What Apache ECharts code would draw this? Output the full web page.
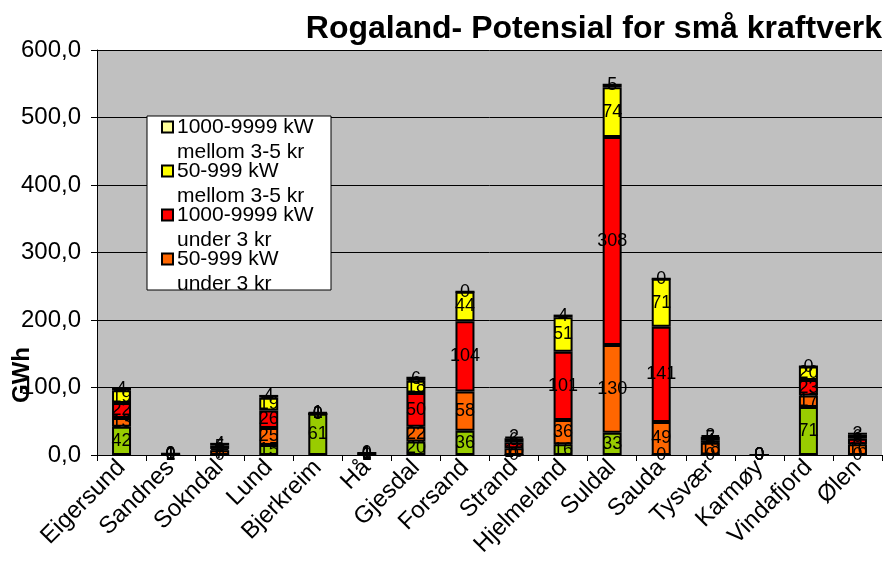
<!DOCTYPE html>
<html>
<head>
<meta charset="utf-8">
<script src="https://cdn.jsdelivr.net/npm/echarts@6/dist/echarts.min.js"></script>
<style>
html,body{margin:0;padding:0;background:#fff;}
#chart{width:886px;height:580px;}
</style>
</head>
<body>
<div id="chart"></div>
<script>
const categories = ['Eigersund','Sandnes','Sokndal','Lund','Bjerkreim','Hå','Gjesdal','Forsand','Strand','Hjelmeland','Suldal','Sauda','Tysvær','Karmøy','Vindafjord','Ølen'];
const yTicks = [0,100,200,300,400,500,600];
const seriesNames = ['Øvrige','50-999 kW\nunder 3 kr','1000-9999 kW\nunder 3 kr','50-999 kW\nmellom 3-5 kr','1000-9999 kW\nmellom 3-5 kr'];
const greenVals  = [42,0,0,15,61,0,20,36,0,16,33,0,0,0,71,0];
const orangeVals = [13,1,7,25,0,1,22,58,10,36,130,49,18,0,17,16];
const redVals    = [22,0,2,26,0,1,50,104,9,101,308,141,4,0,23,8];
const yellowVals = [19,1,5,19,1,1,18,44,6,51,74,71,5,0,20,6];
const lightVals  = [4,0,4,4,1,0,6,0,2,4,5,0,2,0,0,3];
const colors = ['#99CC00','#FF6600','#FF0000','#FFFF00','#FFFF99'];
const allVals = [greenVals, orangeVals, redVals, yellowVals, lightVals];
const legendOrder = [4, 3, 2, 1];

const FONT = '"Liberation Sans", Arial, sans-serif';
const chart = echarts.init(document.getElementById('chart'), null, {renderer:'canvas'});
const series = allVals.map((vals, i) => ({
  name: seriesNames[i],
  type: 'bar',
  stack: 'total',
  data: vals,
  barWidth: 19,
  itemStyle: {color: colors[i], borderColor: '#000', borderWidth: 2},
  label: {
    show: true, position: 'inside', color: '#000', fontSize: 18, fontFamily: FONT,
    formatter: p => String(Math.round(p.value))
  },
  emphasis: {disabled: true},
  animation: false
}));

const legendGraphics = [
  {type: 'rect', shape: {x: 147, y: 116, width: 184, height: 174}, z: 50,
    style: {fill: '#fff', stroke: '#000', lineWidth: 1}}
];
legendOrder.forEach((si, k) => {
  const cy = 127 + k * 44;
  const lines = seriesNames[si].split('\n');
  legendGraphics.push({type: 'rect', shape: {x: 162, y: cy - 5.5, width: 11, height: 11}, z: 51,
    style: {fill: colors[si], stroke: '#000', lineWidth: 2}});
  lines.forEach((ln, j) => {
    legendGraphics.push({type: 'text', x: 177, y: cy + j * 25, z: 51,
      style: {text: ln, fill: '#000', font: '21px ' + FONT, textAlign: 'left', textVerticalAlign: 'middle'}});
  });
});

chart.setOption({
  animation: false,
  backgroundColor: '#fff',
  title: {
    text: 'Rogaland- Potensial for små kraftverk',
    right: 4, top: 13, padding: 0,
    textStyle: {fontSize: 32, fontWeight: 'bold', color: '#000', fontFamily: FONT}
  },
  grid: {left: 97, right: 4, top: 50, bottom: 125, show: true, backgroundColor: '#C0C0C0', borderWidth: 0},
  xAxis: {
    type: 'category', data: categories,
    axisLine: {lineStyle: {color: '#000', width: 1}},
    axisTick: {show: true, alignWithLabel: false, interval: 0, length: 6, lineStyle: {color: '#000'}},
    axisLabel: {interval: 0, rotate: 45, fontSize: 24, color: '#000', fontFamily: FONT, margin: 9}
  },
  yAxis: {
    type: 'value', min: 0, max: 600, interval: 100,
    axisLine: {show: true, lineStyle: {color: '#000', width: 1}},
    axisTick: {show: true, length: 6, lineStyle: {color: '#000'}},
    splitLine: {show: true, lineStyle: {color: '#000', width: 1}},
    axisLabel: {fontSize: 24, color: '#000', fontFamily: FONT, margin: 16,
      formatter: v => v.toFixed(1).replace('.', ',')}
  },
  graphic: legendGraphics.concat([
    {type: 'text', x: 22, y: 375, rotation: Math.PI/2, z: 10,
      style: {text: 'GWh', fill: '#000', font: 'bold 24px ' + FONT, textAlign: 'center', textVerticalAlign: 'middle'}}
  ]),
  series: series
});
</script>
</body>
</html>
